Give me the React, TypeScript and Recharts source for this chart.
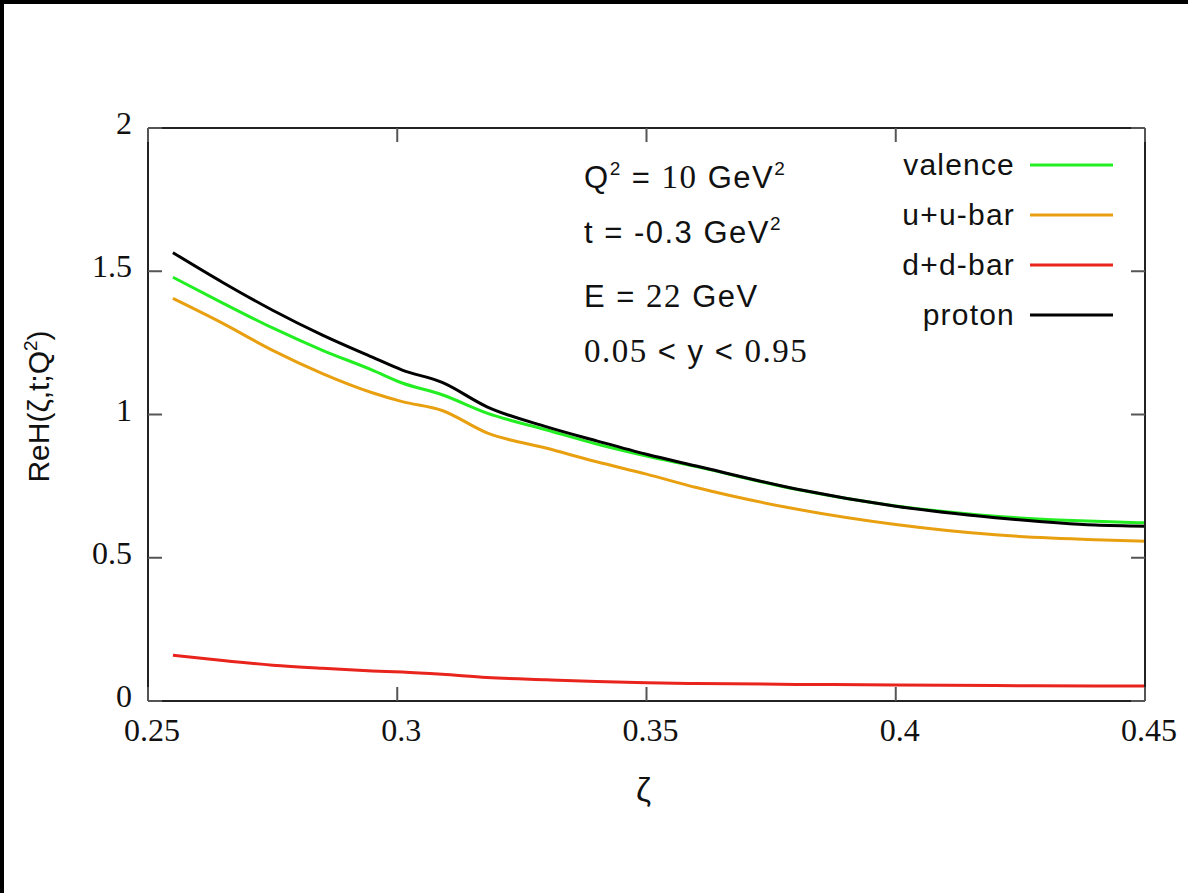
import React from 'react';
import { LineChart, Line, XAxis, YAxis, Legend, Label } from 'recharts';

// values
const zeta = [0.255, 0.265, 0.275, 0.285, 0.295, 0.301, 0.309, 0.318, 0.33, 0.34, 0.35, 0.36, 0.38, 0.4, 0.42, 0.44, 0.45];
const valence = [1.479, 1.389, 1.302, 1.224, 1.155, 1.11, 1.069, 1.005, 0.946, 0.897, 0.855, 0.818, 0.739, 0.681, 0.645, 0.627, 0.622];
const uubar = [1.405, 1.318, 1.224, 1.143, 1.076, 1.045, 1.014, 0.936, 0.882, 0.835, 0.792, 0.745, 0.67, 0.616, 0.58, 0.563, 0.558];
const ddbar = [0.16, 0.141, 0.125, 0.114, 0.105, 0.101, 0.093, 0.082, 0.074, 0.068, 0.064, 0.061, 0.058, 0.056, 0.054, 0.052, 0.052];
const proton = [1.565, 1.461, 1.364, 1.277, 1.2, 1.155, 1.112, 1.027, 0.957, 0.908, 0.861, 0.82, 0.74, 0.68, 0.64, 0.614, 0.61];

const xTicks = [0.25, 0.3, 0.35, 0.4, 0.45];
const yTicks = [0, 0.5, 1, 1.5, 2];

const seriesNames = ['valence', 'u+u-bar', 'd+d-bar', 'proton'];

const rows = zeta.map((z, i) => ({
  zeta: z,
  valence: valence[i],
  uubar: uubar[i],
  ddbar: ddbar[i],
  proton: proton[i],
}));

const TICK_LEN = 14;
const TICK_COLOR = '#555';
const FRAME = { stroke: '#222', strokeWidth: 2 };
const SERIF = 'Liberation Serif';
const SANS = 'Liberation Sans';

const BottomTick = (props: any) => {
  const { x, y, payload } = props;
  return (
    <g>
      <line x1={x} y1={y} x2={x} y2={y - TICK_LEN} stroke={TICK_COLOR} strokeWidth={2} />
      <text x={x + 4} y={y + 40} textAnchor="middle" fontFamily={SERIF} fontSize={32} fill="#111">
        {payload.value}
      </text>
    </g>
  );
};

const TopTick = (props: any) => {
  const { x, y } = props;
  return <line x1={x} y1={y} x2={x} y2={y + TICK_LEN} stroke={TICK_COLOR} strokeWidth={2} />;
};

const LeftTick = (props: any) => {
  const { x, y, payload } = props;
  return (
    <g>
      <line x1={x} y1={y} x2={x + TICK_LEN} y2={y} stroke={TICK_COLOR} strokeWidth={2} />
      <text x={x - 16} y={y + 6} textAnchor="end" fontFamily={SERIF} fontSize={32} fill="#111">
        {payload.value}
      </text>
    </g>
  );
};

const RightTick = (props: any) => {
  const { x, y } = props;
  return <line x1={x} y1={y} x2={x - TICK_LEN} y2={y} stroke={TICK_COLOR} strokeWidth={2} />;
};

const renderLegend = (props: any) => {
  const items = [...(props.payload || [])].sort(
    (a: any, b: any) => seriesNames.indexOf(a.value) - seriesNames.indexOf(b.value)
  );
  return (
    <div>
      {items.map((entry: any) => (
        <div key={entry.value} style={{ display: 'flex', alignItems: 'center', height: 50 }}>
          <span style={{ width: 151, textAlign: 'right', fontFamily: SANS, fontSize: 30, color: '#111', letterSpacing: 1.2 }}>
            {entry.value}
          </span>
          <svg width={98} height={10}>
            <line x1={15} y1={5} x2={98} y2={5} stroke={entry.color} strokeWidth={3} />
          </svg>
        </div>
      ))}
    </div>
  );
};

const yLabel = (props: any) => {
  const { viewBox } = props;
  const cx = viewBox.x + 45;
  const cy = viewBox.y + viewBox.height / 2 - 8;
  return (
    <text x={cx} y={cy} transform={`rotate(-90, ${cx}, ${cy})`} textAnchor="middle" fontFamily={SANS} fontSize={30} fill="#111">
      ReH(ζ,t;Q<tspan dy={-12} fontSize={19}>2</tspan><tspan dy={12}>)</tspan>
    </text>
  );
};

const xLabel = (props: any) => {
  const { viewBox } = props;
  return (
    <text x={viewBox.x + viewBox.width / 2 - 3} y={viewBox.y + 100} textAnchor="middle" fontFamily={SANS} fontSize={34} fill="#111">
      ζ
    </text>
  );
};

const note = { fontFamily: SANS, fontSize: 31, fill: '#111', letterSpacing: 1.5 };

export default function App() {
  return (
    <div
      style={{
        position: 'absolute',
        top: 0,
        left: 0,
        width: 1188,
        height: 893,
        boxSizing: 'border-box',
        borderTop: '4px solid #000',
        borderLeft: '4px solid #000',
        background: '#fff',
      }}
    >
      <LineChart width={1184} height={889} data={rows} margin={{ top: 123, right: 42, bottom: 0, left: 0 }}>
        <XAxis
          dataKey="zeta"
          type="number"
          domain={[0.25, 0.45]}
          ticks={xTicks}
          allowDataOverflow
          height={192}
          axisLine={FRAME}
          tickLine={false}
          tickSize={0}
          tickMargin={0}
          tick={<BottomTick />}
        >
          <Label content={xLabel} />
        </XAxis>
        {/* mirrored frame axes (same scales as the main ones) */}
        <XAxis
          xAxisId="top"
          dataKey="zeta"
          orientation="top"
          type="number"
          domain={[0.25, 0.45]}
          ticks={xTicks}
          allowDataOverflow
          height={1}
          axisLine={FRAME}
          tickLine={false}
          tickSize={0}
          tickMargin={0}
          tick={<TopTick />}
        />
        <YAxis
          type="number"
          domain={[0, 2]}
          ticks={yTicks}
          allowDataOverflow
          width={144}
          axisLine={FRAME}
          tickLine={false}
          tickSize={0}
          tickMargin={0}
          tick={<LeftTick />}
        >
          <Label content={yLabel} />
        </YAxis>
        <YAxis
          yAxisId="right"
          orientation="right"
          type="number"
          domain={[0, 2]}
          ticks={yTicks}
          allowDataOverflow
          width={1}
          axisLine={FRAME}
          tickLine={false}
          tickSize={0}
          tickMargin={0}
          tick={<RightTick />}
        />
        <Legend
          layout="vertical"
          align="center"
          verticalAlign="middle"
          content={renderLegend}
          wrapperStyle={{ top: 136, left: 860, width: 260, height: 200 }}
        />
        <Line type="monotone" dataKey="valence" name="valence" stroke="#22ee22" strokeWidth={3} dot={false} isAnimationActive={false} />
        <Line type="monotone" dataKey="uubar" name="u+u-bar" yAxisId="right" stroke="#e8a010" strokeWidth={3} dot={false} isAnimationActive={false} />
        <Line type="monotone" dataKey="ddbar" name="d+d-bar" stroke="#e8241c" strokeWidth={3} dot={false} isAnimationActive={false} />
        <Line type="monotone" dataKey="proton" name="proton" xAxisId="top" stroke="#000" strokeWidth={3} dot={false} isAnimationActive={false} />
      </LineChart>
      <svg
        width={1184}
        height={889}
        style={{ position: 'absolute', left: 0, top: 0, pointerEvents: 'none' }}
      >
        <text x={580} y={184} {...note}>
          Q<tspan dy={-13} fontSize={19}>2</tspan>
          <tspan dy={13}> = </tspan>
          <tspan fontFamily={SERIF} fontSize={33}>10</tspan>
          <tspan> GeV</tspan>
          <tspan dy={-13} fontSize={19}>2</tspan>
        </text>
        <text x={580} y={239} {...note}>
          t = -0.3 GeV<tspan dy={-13} fontSize={19}>2</tspan>
        </text>
        <text x={580} y={303} {...note}>
          E = <tspan fontFamily={SERIF} fontSize={33}>22</tspan> GeV
        </text>
        <text x={580} y={358} {...note}>
          <tspan fontFamily={SERIF} fontSize={33}>0.05</tspan> &lt; y &lt; <tspan fontFamily={SERIF} fontSize={33}>0.95</tspan>
        </text>
      </svg>
    </div>
  );
}
